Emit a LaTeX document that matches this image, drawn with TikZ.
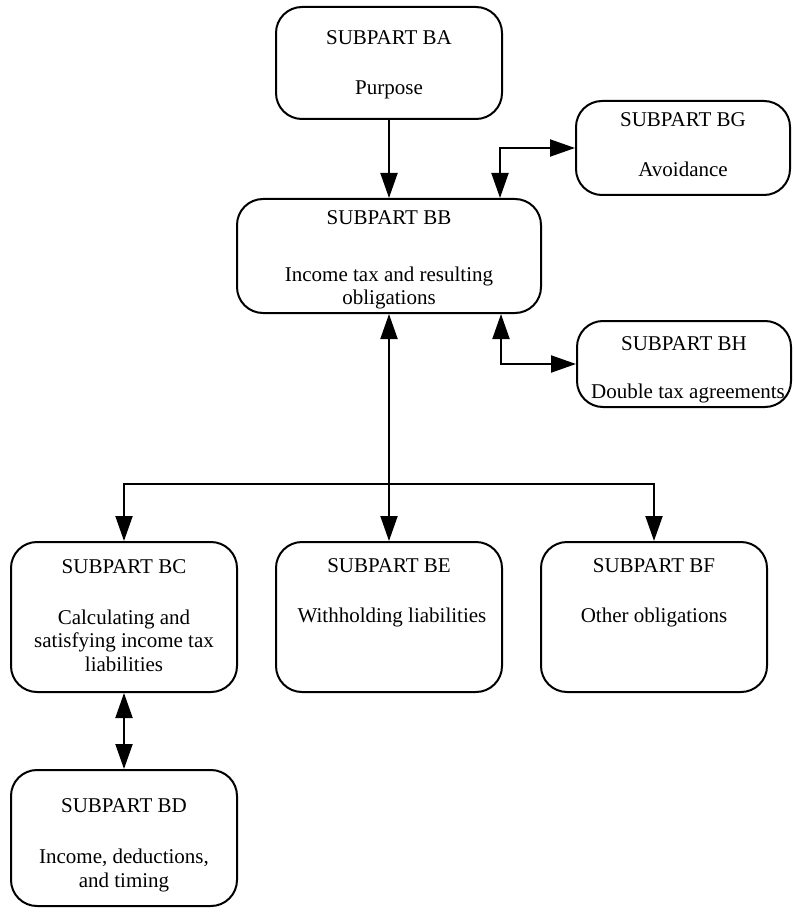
\documentclass[tikz,border=0pt]{standalone}
\usepackage{fontspec}
\setmainfont{Liberation Serif}
\usetikzlibrary{arrows.meta}
\begin{document}
\begin{tikzpicture}[x=1pt,y=-1pt,
  box/.style={draw, line width=2pt, rounded corners=26pt, inner sep=0pt},
  lbl/.style={anchor=base, inner sep=0pt, font=\fontsize{21}{24}\selectfont},
  arr/.style={line width=2pt, -{Triangle[length=25pt,width=17pt]}},
  darr/.style={line width=2pt, {Triangle[length=25pt,width=17pt]}-{Triangle[length=25pt,width=17pt]}}]
\fill[white] (0,0) rectangle (793,917);
\useasboundingbox (0,0) rectangle (793,917);

% boxes
\node[box, minimum width=226pt, minimum height=112pt] (ba) at (389,63) {};
\node[box, minimum width=214pt, minimum height=94pt] (bg) at (683,148) {};
\node[box, minimum width=304pt, minimum height=114pt] (bb) at (389,256) {};
\node[box, minimum width=214pt, minimum height=86pt] (bh) at (684,364) {};
\node[box, minimum width=226pt, minimum height=150pt] (bc) at (124,617) {};
\node[box, minimum width=226pt, minimum height=150pt] (be) at (389,617) {};
\node[box, minimum width=226pt, minimum height=150pt] (bf) at (654,617) {};
\node[box, minimum width=226pt, minimum height=136pt] (bd) at (124,838) {};

% texts
\node[lbl] (bat1) at (389,45) {SUBPART BA};
\node[lbl] (bat2) at (389,95) {Purpose};
\node[lbl] (bgt1) at (683,127) {SUBPART BG};
\node[lbl] (bgt2) at (683,177) {Avoidance};
\node[lbl] (bbt1) at (389,225) {SUBPART BB};
\node[lbl] (bbt2) at (389,281) {Income tax and resulting};
\node[lbl] (bbt3) at (389,304) {obligations};
\node[lbl] (bht1) at (684,350) {SUBPART BH};
\node[lbl] (bht2) at (688,398) {Double tax agreements};
\node[lbl] (bct1) at (124,573) {SUBPART BC};
\node[lbl] (bct2) at (124,624) {Calculating and};
\node[lbl] (bct3) at (124,647.5) {satisfying income tax};
\node[lbl] (bct4) at (124,671) {liabilities};
\node[lbl] (bet1) at (389,572) {SUBPART BE};
\node[lbl] (bet2) at (392,622) {Withholding liabilities};
\node[lbl] (bft1) at (654,572) {SUBPART BF};
\node[lbl] (bft2) at (654,622) {Other obligations};
\node[lbl] (bdt1) at (124,812) {SUBPART BD};
\node[lbl] (bdt2) at (124,863) {Income, deductions,};
\node[lbl] (bdt3) at (124,887) {and timing};

% connectors
\coordinate (hub) at (389,484);
\draw[arr] (ba.south) -- (ba.south |- bb.north);
\draw[darr] (bg.west) -| ([xshift=111pt]bb.north);
\draw[darr] (bh.west) -| ([xshift=112pt]bb.south);
\draw[darr] (bb.south) -- (be.north);
\draw[arr] (hub) -| (bc.north);
\draw[arr] (hub) -| (bf.north);
\draw[darr] (bc.south) -- (bd.north);
\end{tikzpicture}
\end{document}
